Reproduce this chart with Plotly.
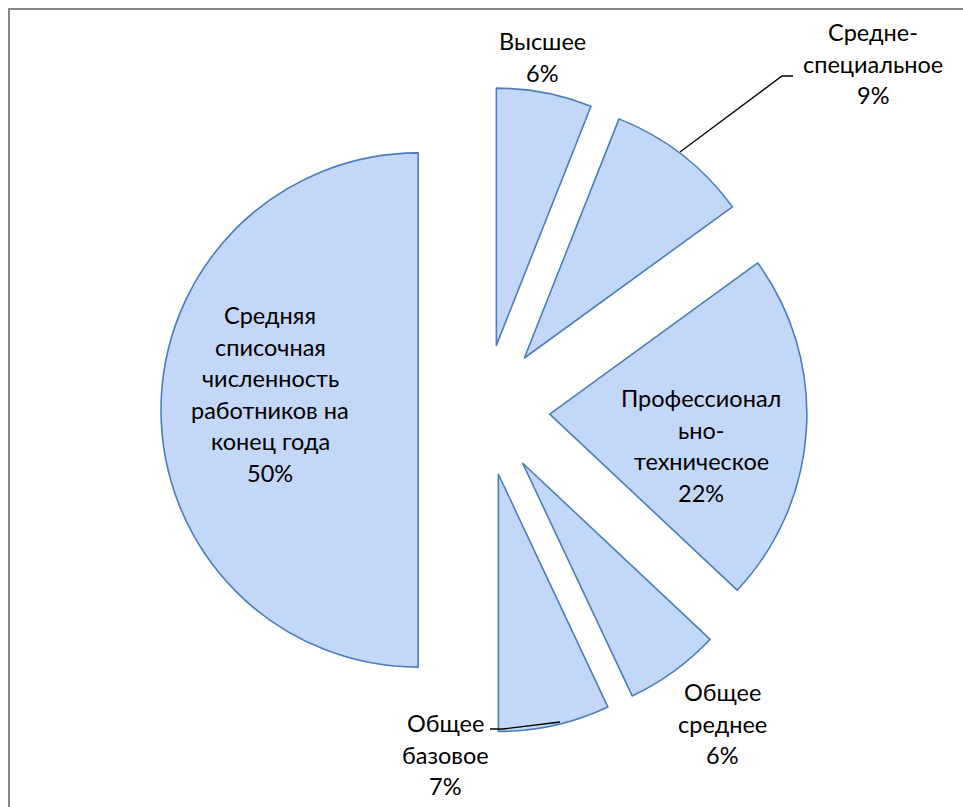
import plotly.graph_objects as go

# Education structure of staff, shares in percent (clockwise from 12 o'clock)
labels = [
    "Высшее",
    "Средне-специальное",
    "Профессионально-техническое",
    "Общее среднее",
    "Общее базовое",
    "Средняя списочная численность работников на конец года",
]
values = [6, 9, 22, 6, 7, 50]

# How each label is broken into lines on the chart
label_lines = [
    ["Высшее"],
    ["Средне-", "специальное"],
    ["Профессионал", "ьно-", "техническое"],
    ["Общее", "среднее"],
    ["Общее", "базовое"],
    ["Средняя", "списочная", "численность", "работников на", "конец года"],
]

W, H = 963, 807
FONT = "Lato"
FONT_SIZE = 23.5
LINE_GAP = 31.6

fig = go.Figure(
    go.Pie(
        labels=labels,
        values=values,
        sort=False,
        direction="clockwise",
        rotation=0,
        pull=[0.256] * len(values),
        textinfo="none",
        hoverinfo="label+percent",
        marker=dict(colors=["#c3d7f9"] * len(values),
                    line=dict(color="#4a7ebb", width=1.6)),
        domain=dict(x=[161 / W, 807 / W], y=[1 - 733 / H, 1 - 87 / H]),
        showlegend=False,
    )
)


def px_x(x):
    return x / W


def px_y(y):
    return 1 - y / H


# Label anchor: centre x and centre y of the first line (pixels)
label_pos = [
    (542, 41),
    (873, 32),
    (701, 398),
    (722, 692),
    (445, 723),
    (270, 315),
]

total = sum(values)
annotations = []
for lines, val, (cx, cy) in zip(label_lines, values, label_pos):
    rows = lines + [f"{round(100 * val / total)}%"]
    for i, row in enumerate(rows):
        annotations.append(dict(
            x=px_x(cx), y=px_y(cy + i * LINE_GAP),
            xref="paper", yref="paper",
            xanchor="center", yanchor="middle",
            text=row, showarrow=False,
            font=dict(family=FONT, size=FONT_SIZE, color="#000000"),
        ))

# Leader lines for the two labels placed away from their slices
leaders = [
    [(793, 76), (782, 76), (680, 152)],
    [(490, 729), (503, 729), (560, 722)],
]
shapes = []
for pts in leaders:
    path = "M " + " L ".join(f"{px_x(x)},{px_y(y)}" for x, y in pts)
    shapes.append(dict(type="path", path=path, xref="paper", yref="paper",
                       line=dict(color="#000000", width=1.3)))

# Chart frame
shapes.append(dict(type="rect", xref="paper", yref="paper",
                   x0=px_x(9), y0=-0.05, x1=1.05, y1=px_y(9),
                   line=dict(color="#878787", width=2), fillcolor="rgba(0,0,0,0)",
                   layer="below"))

fig.update_layout(
    width=W, height=H,
    margin=dict(l=0, r=0, t=0, b=0, autoexpand=False),
    paper_bgcolor="#ffffff",
    plot_bgcolor="#ffffff",
    annotations=annotations,
    shapes=shapes,
)

fig.write_html("out.html")
